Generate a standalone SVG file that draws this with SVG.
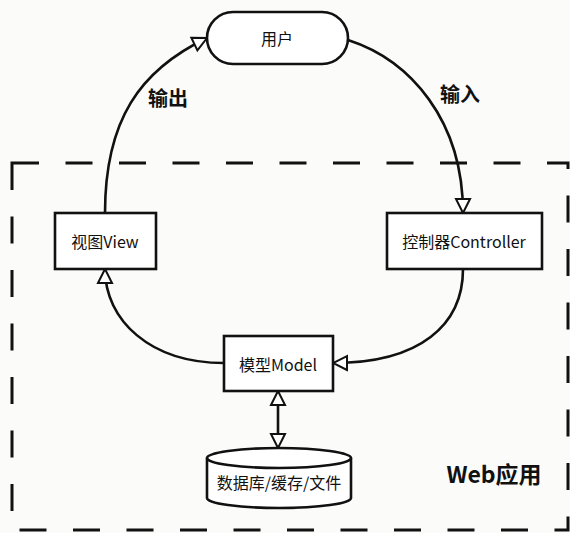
<svg xmlns="http://www.w3.org/2000/svg" width="570" height="533" viewBox="0 0 570 533">
<defs>
<style>
.box{fill:#ffffff;stroke:#111;stroke-width:2.6}
.lbl{font-family:"Noto Sans CJK SC","Noto Sans",sans-serif;font-size:16px;fill:#111;text-anchor:middle;dominant-baseline:central}
.big{font-family:"Noto Sans CJK SC","Noto Sans",sans-serif;font-weight:bold;fill:#111;text-anchor:middle;dominant-baseline:central}
.edge{fill:none;stroke:#111;stroke-width:2.6}
.frame{fill:none;stroke:#111;stroke-width:3;stroke-dasharray:27 26.5}
</style>
<marker id="tri" markerUnits="userSpaceOnUse" markerWidth="18" markerHeight="18" viewBox="-2 -2 18 18" refX="14" refY="7" orient="auto-start-reverse">
<path d="M0,0 L14,7 L0,14 Z" fill="#fff" stroke="#111" stroke-width="2"/>
</marker>
</defs>
<rect x="0" y="0" width="570" height="533" fill="#fbfbfa"/>
<g id="frame">
<rect class="frame" x="12" y="163" width="556" height="367" stroke-dashoffset="0"/>
<text class="big" x="494" y="473" font-size="23">Web应用</text>
</g>
<g id="connectors">
<path class="edge" d="M105,213 C105,120 140,70 207,38" marker-end="url(#tri)"/>
<path class="edge" d="M348,40 C410,60 463,120 463,213" marker-end="url(#tri)"/>
<path class="edge" d="M463,269 C463,325 420,363 333,363" marker-end="url(#tri)"/>
<path class="edge" d="M224,363 C150,363 105,320 105,269" marker-end="url(#tri)"/>
<line class="edge" x1="278" y1="391" x2="278" y2="448" marker-start="url(#tri)" marker-end="url(#tri)"/>
<text class="big" x="168" y="97" font-size="20">输出</text>
<text class="big" x="460" y="93" font-size="20">输入</text>
</g>
<g id="user">
<rect class="box" x="207" y="12" width="141" height="52" rx="26" ry="26"/>
<text class="lbl" x="277" y="38">用户</text>
</g>
<g id="view">
<rect class="box" x="55" y="213" width="101" height="56"/>
<text class="lbl" x="105" y="241">视图View</text>
</g>
<g id="controller">
<rect class="box" x="387" y="213" width="155" height="56"/>
<text class="lbl" x="464" y="241">控制器Controller</text>
</g>
<g id="model">
<rect class="box" x="224" y="336" width="109" height="55"/>
<text class="lbl" x="278" y="364">模型Model</text>
</g>
<g id="storage">
<path class="box" d="M207,458 L207,498 A72,10 0 0 0 351,498 L351,458 A72,10 0 0 0 207,458 Z"/>
<path class="edge" d="M207,458 A72,10 0 0 0 351,458"/>
<text class="lbl" x="279" y="482" font-size="17">数据库/缓存/文件</text>
</g>
</svg>
